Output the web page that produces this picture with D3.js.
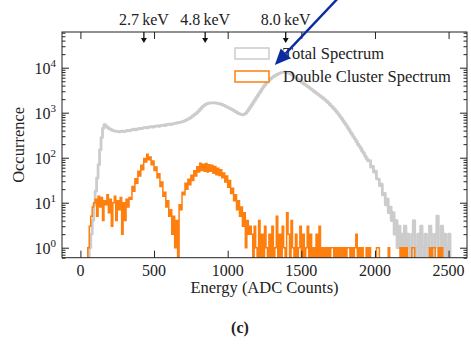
<!DOCTYPE html>
<html>
<head>
<meta charset="utf-8">
<script src="https://cdn.jsdelivr.net/npm/d3@7"></script>
<style>
  body { margin: 0; background: #fff; }
  svg { font-family: "Liberation Serif", "Times New Roman", serif; }
</style>
</head>
<body>
<div id="chart"></div>
<script>
// both histograms use bins of 10 ADC counts, starting at 0
const binWidth = 10;

// total spectrum
const totalCounts = [
  0, 0, 0, 0, 0, 0, 1, 2, 4, 9,
  18, 35, 70, 150, 280, 450, 540, 500, 470, 445,
  430, 410, 400, 390, 385, 380, 375, 385, 390, 380,
  385, 400, 405, 395, 410, 420, 430, 415, 425, 440,
  450, 445, 455, 465, 470, 460, 475, 485, 490, 480,
  495, 505, 510, 500, 515, 525, 530, 520, 540, 550,
  555, 545, 560, 570, 580, 590, 600, 610, 620, 635,
  650, 675, 700, 730, 760, 800, 850, 900, 950, 1020,
  1100, 1200, 1300, 1400, 1480, 1550, 1600, 1630, 1650, 1660,
  1660, 1650, 1630, 1600, 1580, 1540, 1500, 1450, 1400, 1350,
  1300, 1250, 1200, 1150, 1100, 1050, 1000, 960, 930, 910,
  900, 930, 980, 1080, 1200, 1340, 1500, 1700, 1900, 2150,
  2400, 2700, 3000, 3400, 3800, 4200, 4600, 5000, 5400, 5750,
  6100, 6400, 6700, 7000, 7300, 7550, 7800, 7900, 8000, 7950,
  7800, 7550, 7300, 7000, 6700, 6350, 6000, 5650, 5300, 5000,
  4700, 4450, 4200, 4000, 3800, 3600, 3400, 3200, 3000, 2850,
  2700, 2550, 2400, 2270, 2150, 2020, 1900, 1770, 1650, 1520,
  1400, 1300, 1200, 1100, 1000, 910, 820, 740, 660, 590,
  530, 470, 420, 370, 330, 290, 260, 230, 200, 180,
  160, 140, 125, 108, 95, 85, 86, 62, 64, 48,
  50, 34, 33, 24, 26, 15, 16, 9, 12, 6,
  8, 4, 6, 2, 4, 1, 3, 1, 2, 0,
  3, 0, 2, 1, 0, 2, 4, 0, 1, 2,
  0, 3, 1, 0, 2, 1, 0, 3, 2, 0,
  1, 2, 5, 0, 1, 3, 0, 2, 1, 0,
  2
];

// double cluster spectrum
const doubleCounts = [
  0, 0, 0, 0, 0, 1, 3, 5, 8, 10,
  12, 5, 14, 8, 13, 4, 11, 9, 15, 6,
  12, 3, 10, 14, 4, 11, 7, 13, 2, 10,
  4, 12, 8, 13, 12, 23, 18, 34, 27, 50,
  39, 68, 54, 96, 80, 120, 90, 104, 70, 84,
  52, 62, 36, 44, 23, 29, 14, 17, 8, 11,
  5, 7, 2, 5, 1, 4, 0, 9, 7, 17,
  15, 27, 20, 33, 25, 41, 31, 51, 39, 63,
  48, 75, 52, 72, 50, 74, 48, 70, 50, 68,
  45, 64, 42, 58, 40, 54, 36, 46, 29, 39,
  22, 31, 16, 21, 11, 15, 7, 11, 5, 8,
  3, 6, 1, 4, 2, 3, 2, 0, 3, 1,
  0, 4, 0, 2, 0, 3, 1, 0, 2, 0,
  3, 0, 1, 5, 0, 2, 0, 3, 1, 0,
  6, 2, 0, 4, 1, 0, 2, 0, 1, 3,
  0, 2, 0, 1, 3, 0, 2, 0, 1, 0,
  2, 0, 3, 0, 1, 0, 1, 0, 1, 0,
  1, 1, 0, 1, 0, 1, 0, 1, 0, 1,
  0, 1, 1, 0, 1, 0, 1, 2, 0, 1,
  0, 1, 0, 0, 1, 0, 1, 0, 0, 0,
  0, 1, 1, 0, 0, 0, 0, 0, 0, 1,
  0, 0, 0, 0, 0, 0, 0, 1, 0, 1,
  0, 1, 0, 0, 0, 1, 1, 0, 0, 0,
  0, 0, 0, 0, 0, 0, 0, 1, 0, 1,
  1, 0, 0, 1, 0, 1, 0, 0, 0, 0
];

const xTicks = [0, 500, 1000, 1500, 2000, 2500];
const yMajorTicks = [1, 10, 100, 1000, 10000];

// energy markers above the plot (ADC position)
const keVLabels = ["2.7\u2009keV", "4.8\u2009keV", "8.0\u2009keV"];
const keVPositions = [431, 847, 1394];

const legendLabels = ["Total Spectrum", "Double Cluster Spectrum"];

// blue annotation arrow: start and tip in (ADC, occurrence)
const arrowStart = [1775, 4.3e5];
const arrowTip = [1320, 1.15e4];

const colors = { total: "#cccccc", double: "#ff7f0e", arrow: "#0b2ca0" };

// set the dimensions and margins of the graph
const margin = { top: 32, right: 4, bottom: 89.3, left: 62 };
const width = 471 - margin.left - margin.right;
const height = 347 - margin.top - margin.bottom;

const svgRoot = d3.select("#chart").append("svg")
  .attr("width", 471)
  .attr("height", 347);

const svg = svgRoot.append("g")
  .attr("transform", `translate(${margin.left},${margin.top})`);

const x = d3.scaleLinear().domain([-125, 2625]).range([0, width]);
const y = d3.scaleLog().domain([0.6, 62100]).range([height, 0]);

svg.append("clipPath").attr("id", "plot-clip")
  .append("rect").attr("width", width).attr("height", height);

// step histogram, empty bins drop below the axis
function stepPoints(counts) {
  const pts = counts.map((c, i) => [i * binWidth, c]);
  pts.push([counts.length * binWidth, 0]);
  return pts;
}
const line = d3.line()
  .x(d => x(d[0]))
  .y(d => (d[1] > 0 ? y(d[1]) : height + 3))
  .curve(d3.curveStepAfter);

const plot = svg.append("g").attr("clip-path", "url(#plot-clip)");

plot.append("path")
  .datum(stepPoints(totalCounts))
  .attr("fill", "none")
  .attr("stroke", colors.total)
  .attr("stroke-width", 2.8)
  .attr("stroke-linejoin", "round")
  .attr("d", line);

plot.append("path")
  .datum(stepPoints(doubleCounts))
  .attr("fill", "none")
  .attr("stroke", colors.double)
  .attr("stroke-width", 1.5)
  .attr("d", line);

// ticks, all pointing inward
const minorTicks = y.ticks().filter(v => !yMajorTicks.includes(v));
function addAxis(axis, transform) {
  const g = svg.append("g").attr("transform", transform).call(axis);
  g.select(".domain").remove();
  g.selectAll("line").attr("stroke", "#222");
  g.selectAll("text").remove();
  return g;
}
addAxis(d3.axisBottom(x).tickValues(xTicks).tickSize(-7), `translate(0,${height})`);
addAxis(d3.axisTop(x).tickValues(xTicks).tickSize(-7), "translate(0,0)");
addAxis(d3.axisLeft(y).tickValues(yMajorTicks).tickSize(-7), "translate(0,0)");
addAxis(d3.axisLeft(y).tickValues(minorTicks).tickSize(-3.5), "translate(0,0)");
addAxis(d3.axisRight(y).tickValues(yMajorTicks).tickSize(-7), `translate(${width},0)`);
addAxis(d3.axisRight(y).tickValues(minorTicks).tickSize(-3.5), `translate(${width},0)`);

// frame
svg.append("rect")
  .attr("width", width).attr("height", height)
  .attr("fill", "none").attr("stroke", "#222").attr("stroke-width", 1);

// tick labels
svg.selectAll(".xlab").data(xTicks).join("text")
  .attr("x", d => x(d)).attr("y", height + 18)
  .attr("text-anchor", "middle").attr("font-size", 16).attr("fill", "#222")
  .text(d => d);

const ylab = svg.selectAll(".ylab").data(yMajorTicks).join("text")
  .attr("x", -6).attr("y", d => y(d) + 6)
  .attr("text-anchor", "end").attr("font-size", 16).attr("fill", "#222");
ylab.append("tspan").text("10");
ylab.append("tspan").attr("dy", -7).attr("font-size", 11)
  .text(d => Math.round(Math.log10(d)));

// axis titles
svg.append("text")
  .attr("x", width / 2).attr("y", height + 35.5)
  .attr("text-anchor", "middle").attr("font-size", 16.5).attr("fill", "#222")
  .text("Energy (ADC Counts)");
svg.append("text")
  .attr("transform", `translate(-38,${height / 2}) rotate(-90)`)
  .attr("text-anchor", "middle").attr("font-size", 16.5).attr("fill", "#222")
  .text("Occurrence");

// energy markers with small down arrows
const markers = svg.selectAll(".kev").data(keVPositions).join("g")
  .attr("transform", d => `translate(${x(d)},0)`);
markers.append("line")
  .attr("y1", 0).attr("y2", 7).attr("stroke", "#111").attr("stroke-width", 1.3);
markers.append("path")
  .attr("d", "M-3,6 L3,6 L0,11 Z").attr("fill", "#111");
markers.append("text")
  .attr("y", -7).attr("text-anchor", "middle").attr("font-size", 16).attr("fill", "#222")
  .text((d, i) => keVLabels[i]);

// legend
const legend = svg.append("g").attr("transform", "translate(173,16)");
const legendColors = [colors.total, colors.double];
legendLabels.forEach((lab, i) => {
  legend.append("rect")
    .attr("x", 0).attr("y", i * 23).attr("width", 34).attr("height", 11)
    .attr("fill", "#fff").attr("stroke", legendColors[i]).attr("stroke-width", 1.5);
  legend.append("text")
    .attr("x", 48).attr("y", i * 23 + 11).attr("font-size", 16.5).attr("fill", "#222")
    .text(lab);
});

// blue annotation arrow
const ax0 = x(arrowStart[0]), ay0 = y(arrowStart[1]);
const ax1 = x(arrowTip[0]), ay1 = y(arrowTip[1]);
const ang = Math.atan2(ay1 - ay0, ax1 - ax0);
const headLen = 16, headHalf = 7;
const bx = ax1 - headLen * Math.cos(ang), by = ay1 - headLen * Math.sin(ang);
svg.append("line")
  .attr("x1", ax0).attr("y1", ay0).attr("x2", bx).attr("y2", by)
  .attr("stroke", colors.arrow).attr("stroke-width", 2.4);
svg.append("path")
  .attr("d", `M${ax1},${ay1} L${bx - headHalf * Math.sin(ang)},${by + headHalf * Math.cos(ang)} L${bx + headHalf * Math.sin(ang)},${by - headHalf * Math.cos(ang)} Z`)
  .attr("fill", colors.arrow);

// panel label
svgRoot.append("text")
  .attr("x", 240).attr("y", 333)
  .attr("text-anchor", "middle").attr("font-size", 16).attr("font-weight", "bold").attr("fill", "#222")
  .text("(c)");
</script>
</body>
</html>
